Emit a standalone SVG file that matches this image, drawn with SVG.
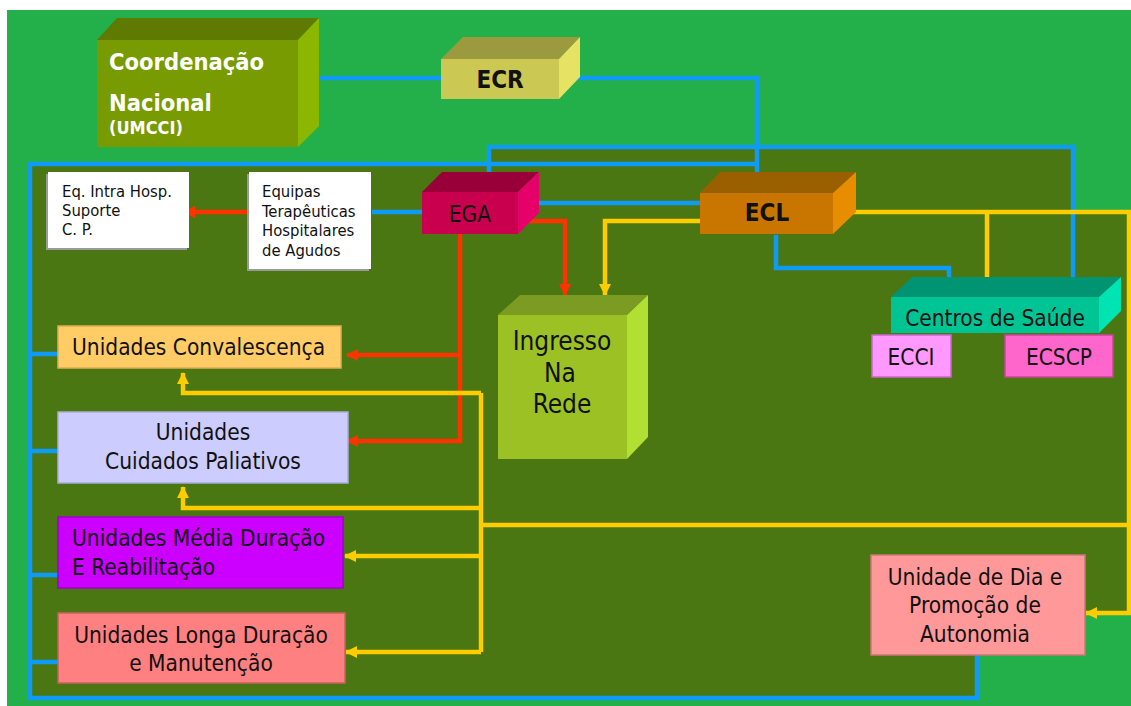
<svg xmlns="http://www.w3.org/2000/svg" width="1131" height="706" viewBox="0 0 1131 706">
<defs>
<style>
.t{font-family:"DejaVu Sans Condensed","DejaVu Sans",sans-serif;fill:#111;}
.n{font-size:22.5px;}
.s{font-size:16.5px;}
.b{font-weight:bold;}
.w{fill:#fff;}
.blue{fill:none;stroke:#0f9bf5;stroke-width:4.5;}
.red{fill:none;stroke:#ff3300;stroke-width:4.5;}
.yel{fill:none;stroke:#ffcc00;stroke-width:4.5;}
.box{stroke-width:1.5;}
</style>
<marker id="ar" markerUnits="userSpaceOnUse" markerWidth="12" markerHeight="12" refX="11" refY="6" orient="auto"><path d="M0,0 L12,6 L0,12 z" fill="#ff3300"/></marker>
<marker id="ay" markerUnits="userSpaceOnUse" markerWidth="12" markerHeight="12" refX="11" refY="6" orient="auto"><path d="M0,0 L12,6 L0,12 z" fill="#ffcc00"/></marker>
</defs>
<rect x="0" y="0" width="1131" height="706" fill="#ffffff"/>
<rect x="7" y="10" width="1124" height="696" fill="#23b04b"/>
<polygon points="30,164 490,164 490,147 1073,147 1073,212 1129,212 1129,613 1085,613 1085,655 977,655 977,698 30,698" fill="#4a7712"/>

<g id="connectors">
<path class="blue" d="M298,78 H441"/>
<path class="blue" d="M559,78 H757 V193"/>
<path class="blue" d="M757,164 H30 V698 H977 V655"/>
<path class="blue" d="M489,176 V147 H1073 V278"/>
<path class="blue" d="M30,354 H58 M30,451 H58 M30,575 H58 M30,662 H58"/>
<path class="blue" d="M372,212 H422"/>
<path class="blue" d="M527,203 H700"/>
<path class="blue" d="M776,235 V268 H949 V297"/>
<path class="red" d="M250,212 H184" marker-end="url(#ar)"/>
<path class="red" d="M516,221 H565 V295" marker-end="url(#ar)"/>
<path class="red" d="M460,234 V441 H347" marker-end="url(#ar)"/>
<path class="red" d="M460,355 H347" marker-end="url(#ar)"/>
<path class="yel" d="M700,221 H605 V295" marker-end="url(#ay)"/>
<path class="yel" d="M833,212 H1129 V613 H1086" marker-end="url(#ay)"/>
<path class="yel" d="M987,212 V297" marker-end="url(#ay)"/>
<path class="yel" d="M1129,525 H481"/>
<path class="yel" d="M481,393 V652"/>
<path class="yel" d="M481,393 H183 V373" marker-end="url(#ay)"/>
<path class="yel" d="M481,508 H183 V487" marker-end="url(#ay)"/>
<path class="yel" d="M481,556 H345" marker-end="url(#ay)"/>
<path class="yel" d="M481,652 H346" marker-end="url(#ay)"/>
</g>

<g id="coordenacao">
<polygon points="97,40 117,18 319,18 298,40" fill="#5e7b00"/>
<polygon points="298,40 319,18 319,126 298,147" fill="#8cb700"/>
<rect x="97" y="40" width="201" height="107" fill="#779b00"/>
<text class="t b w" x="109" y="70" font-size="23.5">Coordenação</text>
<text class="t b w" x="109" y="111" font-size="23.5">Nacional</text>
<text class="t b w" x="109" y="134" font-size="18">(UMCCI)</text>
</g>

<g id="ecr">
<polygon points="441,59 463,37 580,37 559,59" fill="#9c9a3e"/>
<polygon points="559,59 580,37 580,77 559,99" fill="#e6e364"/>
<rect x="441" y="59" width="118" height="40" fill="#cbc954"/>
<text class="t b" x="500" y="88" font-size="24" text-anchor="middle">ECR</text>
</g>

<g id="ega">
<polygon points="422,192 442,172 539,172 518,192" fill="#99003a"/>
<polygon points="518,192 539,172 539,213 518,234" fill="#e6006a"/>
<rect x="422" y="192" width="96" height="42" fill="#c8004e"/>
<text class="t n" x="470" y="222" text-anchor="middle">EGA</text>
</g>

<g id="ecl">
<polygon points="700,193 720,172 856,172 833,193" fill="#9a6000"/>
<polygon points="833,193 856,172 856,212 833,234" fill="#e88c00"/>
<rect x="700" y="193" width="133" height="41" fill="#c87600"/>
<text class="t b" x="767" y="221" font-size="24" text-anchor="middle">ECL</text>
</g>

<g id="centros">
<polygon points="891,297 912,277 1121,277 1099,297" fill="#009473"/>
<polygon points="1099,297 1121,277 1121,311 1099,333" fill="#00e3b3"/>
<rect x="891" y="297" width="208" height="36" fill="#00c494"/>
<text class="t n" x="995" y="326" text-anchor="middle">Centros de Saúde</text>
</g>

<g id="ecci">
<rect x="872" y="335" width="79" height="42" fill="#ff99ff" stroke="#cc66cc" class="box"/>
<text class="t n" x="911" y="365" text-anchor="middle">ECCI</text>
</g>

<g id="ecscp">
<rect x="1005" y="335" width="108" height="42" fill="#ff66cc" stroke="#cc4499" class="box"/>
<text class="t n" x="1059" y="365" text-anchor="middle">ECSCP</text>
</g>

<g id="ingresso">
<polygon points="498,315 520,295 648,295 627,315" fill="#7b9b22"/>
<polygon points="627,315 648,295 648,437 627,459" fill="#b2e032"/>
<rect x="498" y="315" width="129" height="144" fill="#9bc124"/>
<text class="t" x="562" y="350" font-size="26" text-anchor="middle">Ingresso</text>
<text class="t" x="560" y="382" font-size="26" text-anchor="middle">Na</text>
<text class="t" x="562" y="413" font-size="26" text-anchor="middle">Rede</text>
</g>

<g id="eqintra">
<rect x="46" y="174" width="141" height="76" fill="#9a9a9a"/>
<rect x="48" y="172" width="141" height="76" fill="#ffffff"/>
<text class="t s" x="62" y="197">Eq. Intra Hosp.</text>
<text class="t s" x="62" y="216">Suporte</text>
<text class="t s" x="62" y="235">C. P.</text>
</g>

<g id="equipas">
<rect x="247" y="174" width="122" height="97" fill="#9a9a9a"/>
<rect x="249" y="172" width="122" height="97" fill="#ffffff"/>
<text class="t s" x="262" y="197">Equipas</text>
<text class="t s" x="262" y="216.5">Terapêuticas</text>
<text class="t s" x="262" y="236">Hospitalares</text>
<text class="t s" x="262" y="256">de Agudos</text>
</g>

<g id="convalescenca">
<rect x="58" y="326" width="283" height="42" fill="#ffcc66" stroke="#e0ad55" class="box"/>
<text class="t n" x="72" y="355">Unidades Convalescença</text>
</g>

<g id="paliativos">
<rect x="58" y="412" width="290" height="71" fill="#ccccff" stroke="#aaaadd" class="box"/>
<text class="t n" x="203" y="440" text-anchor="middle">Unidades</text>
<text class="t n" x="203" y="469" text-anchor="middle">Cuidados Paliativos</text>
</g>

<g id="media">
<rect x="58" y="517" width="285" height="71" fill="#cc00ff" stroke="#a000cc" class="box"/>
<text class="t n" x="72" y="546">Unidades Média Duração</text>
<text class="t n" x="72" y="575">E Reabilitação</text>
</g>

<g id="longa">
<rect x="58" y="613" width="287" height="70" fill="#ff8080" stroke="#cc6060" class="box"/>
<text class="t n" x="201" y="643" text-anchor="middle">Unidades Longa Duração</text>
<text class="t n" x="201" y="671" text-anchor="middle">e Manutenção</text>
</g>

<g id="unidadedia">
<rect x="871" y="555" width="214" height="100" fill="#ff9999" stroke="#cc7777" class="box"/>
<text class="t n" x="975" y="585" text-anchor="middle">Unidade de Dia e</text>
<text class="t n" x="975" y="613" text-anchor="middle">Promoção de</text>
<text class="t n" x="975" y="642" text-anchor="middle">Autonomia</text>
</g>
</svg>
